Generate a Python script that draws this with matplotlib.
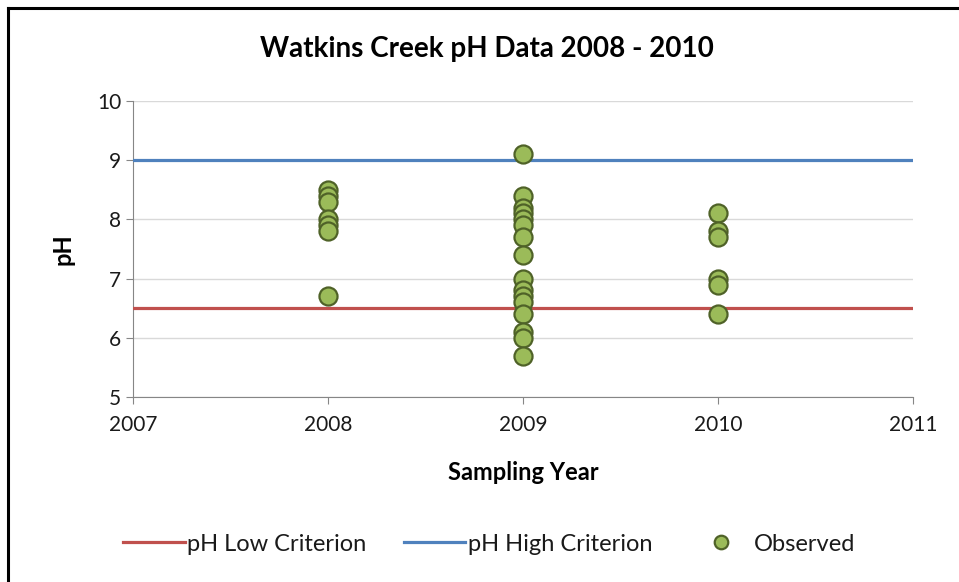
import matplotlib
matplotlib.use("Agg")
import matplotlib.pyplot as plt
from matplotlib.lines import Line2D

plt.rcParams['font.family'] = ['Lato', 'DejaVu Sans']

# observed pH values per sampling year
years_2008 = [8.5, 8.4, 8.3, 8.0, 7.9, 7.8, 6.7]
years_2009 = [9.1, 8.4, 8.2, 8.1, 8.0, 7.9, 7.7, 7.4, 7.0, 6.8, 6.7, 6.6, 6.4, 6.1, 6.0, 5.7]
years_2010 = [8.1, 7.8, 7.7, 7.0, 6.9, 6.4]

crit_x = [2007, 2011]
ph_low = [6.5, 6.5]
ph_high = [9.0, 9.0]

obs_x = [2008] * len(years_2008) + [2009] * len(years_2009) + [2010] * len(years_2010)
obs_y = years_2008 + years_2009 + years_2010

fig = plt.figure(figsize=(9.59, 5.82), dpi=100)
ax = fig.add_axes([0.1387, 0.3179, 0.952 - 0.1387, 0.8265 - 0.3179])

ax.plot(crit_x, ph_low, color='#C0504D', lw=2.3, label='pH Low Criterion', zorder=3)
ax.plot(crit_x, ph_high, color='#4F81BD', lw=2.3, label='pH High Criterion', zorder=3)
ax.plot(obs_x, obs_y, 'o', ms=13, mfc='#9BBB59', mec='#4F6228', mew=1.6,
        label='Observed', zorder=4)

ax.set_xlim(2007, 2011)
ax.set_ylim(5, 10)
ax.set_xticks([2007, 2008, 2009, 2010, 2011])
ax.set_yticks([5, 6, 7, 8, 9, 10])
ax.yaxis.grid(True, color='#D9D9D9', lw=1)
ax.set_axisbelow(True)
for s in ['top', 'right']:
    ax.spines[s].set_visible(False)
ax.spines['left'].set_color('#868686')
ax.spines['bottom'].set_color('#868686')
ax.tick_params(axis='both', colors='#868686', labelcolor='#1a1a1a', labelsize=15, length=5)
ax.tick_params(axis='x', pad=8)

ax.set_xlabel('Sampling Year', fontsize=17, fontweight='bold', labelpad=19)
ax.set_ylabel('pH', fontsize=17, fontweight='bold', labelpad=16)
fig.text(0.508, 0.916, 'Watkins Creek pH Data 2008 - 2010', ha='center', va='center',
         fontsize=20, fontweight='bold')

leg = fig.legend(loc='center', bbox_to_anchor=(0.51, 0.065), ncol=3, frameon=False,
                 fontsize=17, handlelength=2.6, handletextpad=0.1, columnspacing=1.6,
                 markerscale=0.75)
for t in leg.get_texts():
    t.set_color('#1a1a1a')

# outer frame (left and top edges)
fig.add_artist(Line2D([0.0088, 0.0088], [0, 0.986], color='black', lw=2.2, transform=fig.transFigure))
fig.add_artist(Line2D([0.0088, 1], [0.986, 0.986], color='black', lw=2.2, transform=fig.transFigure))

fig.savefig('out.png', dpi=100)
